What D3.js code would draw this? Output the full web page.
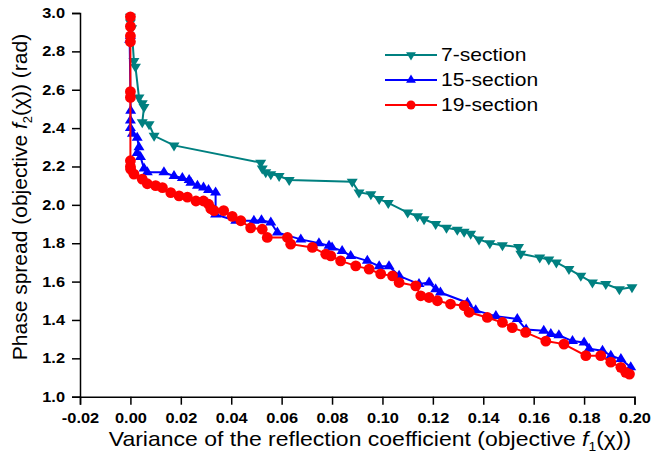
<!DOCTYPE html>
<html>
<head>
<meta charset="utf-8">
<script src="https://cdn.jsdelivr.net/npm/d3@7"></script>
<style>
  body { margin: 0; background: #fff; }
  svg { display: block; font-family: Arial, "Liberation Sans", sans-serif; }
</style>
</head>
<body>
<div id="chart"></div>
<script>
// Pareto fronts
const sec7X = [0.0000, 0.0000, 0.0005, 0.0014, 0.0020, 0.0034, 0.0047, 0.0054, 0.0047, 0.0074, 0.0094, 0.0173,
  0.0517, 0.0523, 0.0537, 0.0557, 0.0590, 0.0630, 0.0880, 0.0907, 0.0954, 0.0987, 0.1023, 0.1100, 0.1139,
  0.1165, 0.1211, 0.1254, 0.1297, 0.1324, 0.1350, 0.1383, 0.1426, 0.1476, 0.1540, 0.1549, 0.1624, 0.1660,
  0.1690, 0.1740, 0.1787, 0.1833, 0.1886, 0.1940, 0.1990];
const sec7Y = [2.98, 2.95, 2.92, 2.75, 2.72, 2.56, 2.53, 2.51, 2.43, 2.42, 2.36, 2.31,
  2.22, 2.19, 2.17, 2.16, 2.15, 2.13, 2.12, 2.065, 2.055, 2.03, 2.01, 1.96, 1.94,
  1.925, 1.90, 1.88, 1.87, 1.86, 1.85, 1.82, 1.80, 1.79, 1.78, 1.745, 1.725, 1.715,
  1.70, 1.665, 1.63, 1.595, 1.587, 1.56, 1.57];

const sec15X = [0.0000, -0.0003, 0.0001, 0.0000, 0.0000, 0.0008, 0.0027, 0.0034, 0.0027, 0.0040, 0.0054, 0.0067,
  0.0133, 0.0173, 0.0206, 0.0233, 0.0240, 0.0266, 0.0290, 0.0310, 0.0338, 0.0338, 0.0418, 0.0490, 0.0520,
  0.0557, 0.0583, 0.0676, 0.0748, 0.0788, 0.0800, 0.0840, 0.0874, 0.0940, 0.0987, 0.1026, 0.1066, 0.1145,
  0.1185, 0.1211, 0.1230, 0.1337, 0.1370, 0.1450, 0.1535, 0.1570, 0.1640, 0.1668, 0.1700, 0.1754, 0.1800,
  0.1820, 0.1873, 0.1906, 0.1946, 0.1985];
const sec15Y = [2.88, 2.86, 2.49, 2.44, 2.40, 2.37, 2.35, 2.30, 2.27, 2.25, 2.19, 2.17,
  2.17, 2.15, 2.14, 2.13, 2.115, 2.10, 2.09, 2.077, 2.064, 1.95, 1.917, 1.917, 1.92,
  1.908, 1.856, 1.82, 1.80, 1.787, 1.778, 1.76, 1.734, 1.708, 1.68, 1.68, 1.63, 1.587,
  1.595, 1.56, 1.543, 1.49, 1.45, 1.42, 1.405, 1.35, 1.344, 1.327, 1.32, 1.29, 1.283,
  1.25, 1.24, 1.214, 1.196, 1.153];

const sec19X = [0.0000, 0.0000, 0.0000, 0.0000, 0.0000, 0.0000, 0.0000, 0.0000, 0.0001, 0.0014, 0.0047, 0.0067,
  0.0100, 0.0127, 0.0160, 0.0193, 0.0226, 0.0260, 0.0290, 0.0310, 0.0319, 0.0332, 0.0370, 0.0404, 0.0438,
  0.0477, 0.0523, 0.0543, 0.0623, 0.0636, 0.0722, 0.0775, 0.0795, 0.0834, 0.0894, 0.0947, 0.0993, 0.1040,
  0.1066, 0.1132, 0.1152, 0.1185, 0.1218, 0.1270, 0.1324, 0.1344, 0.1416, 0.1476, 0.1515, 0.1568, 0.1648,
  0.1720, 0.1807, 0.1866, 0.1906, 0.1946, 0.1965, 0.1980];
const sec19Y = [2.98, 2.93, 2.88, 2.85, 2.59, 2.56, 2.23, 2.20, 2.186, 2.16, 2.134, 2.11,
  2.10, 2.09, 2.064, 2.047, 2.04, 2.02, 2.02, 2.003, 1.98, 1.97, 1.97, 1.94, 1.917,
  1.88, 1.873, 1.83, 1.83, 1.795, 1.778, 1.743, 1.734, 1.708, 1.682, 1.665, 1.64, 1.63,
  1.595, 1.578, 1.526, 1.517, 1.50, 1.483, 1.474, 1.44, 1.413, 1.387, 1.36, 1.335, 1.29,
  1.274, 1.214, 1.214, 1.18, 1.153, 1.127, 1.118];

const seriesNames = ['7-section', '15-section', '19-section'];
const xTicks = [-0.02, 0.00, 0.02, 0.04, 0.06, 0.08, 0.10, 0.12, 0.14, 0.16, 0.18, 0.20];
const yTicks = [1.0, 1.2, 1.4, 1.6, 1.8, 2.0, 2.2, 2.4, 2.6, 2.8, 3.0];

const width = 652;
const height = 466;
const margin = { top: 13, right: 17.5, bottom: 69.3, left: 80 };
const stretch = 1.17; // the source figure's text is a bit wide

const series = [
    { name: seriesNames[0], xs: sec7X, ys: sec7Y, color: '#008080', marker: 'down' },
    { name: seriesNames[1], xs: sec15X, ys: sec15Y, color: '#0000ff', marker: 'up' },
    { name: seriesNames[2], xs: sec19X, ys: sec19Y, color: '#ff0000', marker: 'circle' }
];

const svg = d3.select('#chart')
    .append('svg')
    .attr('width', width)
    .attr('height', height);

const x = d3.scaleLinear()
    .domain([-0.02, 0.20])
    .range([margin.left, width - margin.right]);

const y = d3.scaleLinear()
    .domain([1.0, 3.0])
    .range([height - margin.bottom, margin.top]);

function markerPath(type, s) {
    if (type === 'circle') return d3.symbol(d3.symbolCircle, Math.PI * s * s)();
    // slightly flat triangle, centred on its centroid
    const w = s * 1.1, h = s * 1.8;
    if (type === 'up') return `M0,${-2 * h / 3}L${w},${h / 3}L${-w},${h / 3}Z`;
    return `M0,${2 * h / 3}L${w},${-h / 3}L${-w},${-h / 3}Z`;
}

const line = d3.line()
    .x(d => x(d[0]))
    .y(d => y(d[1]));

series.forEach(s => {
    const pts = s.xs.map((v, i) => [v, s.ys[i]]);
    const g = svg.append('g');
    g.append('path')
        .datum(pts)
        .attr('fill', 'none')
        .attr('stroke', s.color)
        .attr('stroke-width', 2)
        .attr('d', line);
    g.selectAll('path.mk')
        .data(pts)
        .join('path')
        .attr('class', 'mk')
        .attr('d', markerPath(s.marker, s.marker === 'circle' ? 5.4 : 5))
        .attr('fill', s.color)
        .attr('transform', d => `translate(${x(d[0])},${y(d[1])})`);
});

// axes
const xAxis = svg.append('g')
    .attr('transform', `translate(0,${height - margin.bottom})`)
    .call(d3.axisBottom(x).tickValues(xTicks).tickFormat(d3.format('.2f'))
        .tickSizeOuter(0).tickSize(8).tickPadding(8));

const yAxis = svg.append('g')
    .attr('transform', `translate(${margin.left},0)`)
    .call(d3.axisLeft(y).tickValues(yTicks).tickFormat(d3.format('.1f'))
        .tickSizeOuter(0).tickSize(8).tickPadding(7));

[xAxis, yAxis].forEach(a => {
    a.selectAll('path.domain').attr('stroke', '#000').attr('stroke-width', 1.5);
    a.selectAll('line').attr('stroke', '#000').attr('stroke-width', 1.5);
    a.selectAll('text')
        .attr('fill', '#000')
        .attr('font-size', '14px')
        .attr('font-weight', 'bold')
        .attr('font-family', 'Arial, "Liberation Sans", sans-serif');
});
// keep the plain hyphen of the source for -0.02
xAxis.selectAll('text')
    .text(d => d3.format('.2f')(d).replace('−', '-'))
    .attr('transform', `scale(${stretch},1)`);
yAxis.selectAll('text')
    .attr('x', -15 / stretch)
    .attr('transform', `scale(${stretch},1)`);

// axis titles
const xTitle = svg.append('text')
    .attr('transform', `translate(370,446) scale(1.15,1)`)
    .attr('text-anchor', 'middle')
    .attr('font-size', '20px')
    .attr('fill', '#000');
xTitle.append('tspan').text('Variance of the reflection coefficient (objective ');
xTitle.append('tspan').attr('font-style', 'italic').text('f');
xTitle.append('tspan').attr('font-size', '12px').attr('dy', 5).text('1');
xTitle.append('tspan').attr('dy', -5).text('(χ))');

const yTitle = svg.append('text')
    .attr('transform', 'rotate(-90)')
    .attr('x', -197)
    .attr('y', 27)
    .attr('text-anchor', 'middle')
    .attr('font-size', '21px')
    .attr('fill', '#000');
yTitle.append('tspan').text('Phase spread (objective ');
yTitle.append('tspan').attr('font-style', 'italic').text('f');
yTitle.append('tspan').attr('font-size', '13px').attr('dy', 5).text('2');
yTitle.append('tspan').attr('dy', -5).text('(χ)) (rad)');

// legend
const legend = svg.append('g').attr('transform', 'translate(385,55)');
series.forEach((s, i) => {
    const row = legend.append('g').attr('transform', `translate(0,${i * 25})`);
    row.append('line')
        .attr('x1', 0).attr('x2', 52)
        .attr('stroke', s.color)
        .attr('stroke-width', 2);
    row.append('path')
        .attr('d', markerPath(s.marker, 4.5))
        .attr('fill', s.color)
        .attr('transform', 'translate(26,0)');
    row.append('text')
        .attr('transform', `translate(56,0) scale(${stretch},1)`)
        .attr('dy', '0.35em')
        .attr('font-size', '18px')
        .attr('fill', '#000')
        .text(s.name);
});
</script>
</body>
</html>
